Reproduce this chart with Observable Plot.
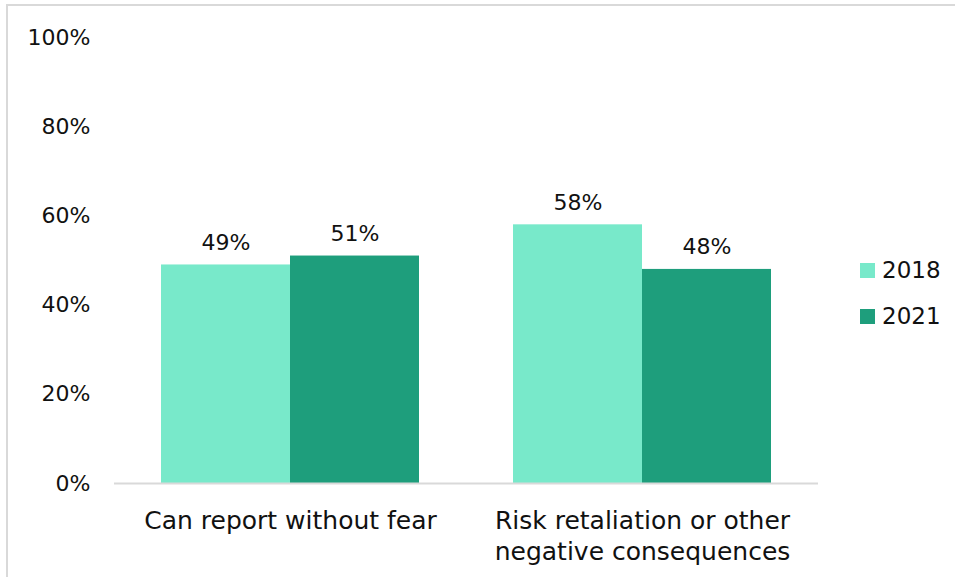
<!DOCTYPE html>
<html>
<head>
<meta charset="utf-8">
<script src="https://cdn.jsdelivr.net/npm/d3@7"></script>
<script src="https://cdn.jsdelivr.net/npm/@observablehq/plot@0.6"></script>
<style>
  html, body { margin: 0; padding: 0; background: #fff; overflow: hidden; }
  #wrap { position: relative; width: 955px; height: 577px; overflow: hidden; font-family: "DejaVu Sans", sans-serif; }
  #frame { position: absolute; left: 6px; top: 4px; width: 1000px; height: 1000px; border: 2px solid #d9d9d9; box-sizing: border-box; }
  #chart { position: absolute; left: 0; top: 0; }
  #legend { position: absolute; left: 860px; top: 247px; font-size: 23px; color: #111; }
  .item { display: flex; align-items: center; height: 46px; }
  .sw { width: 15px; height: 15px; margin-right: 7px; }
</style>
</head>
<body>
<div id="wrap">
  <div id="frame"></div>
  <div id="chart"></div>
  <div id="legend"></div>
</div>
<script>
const categories = ["Can report without fear", "Risk retaliation or other negative consequences"];
const categoryLabels = ["Can report without fear", "Risk retaliation or other\nnegative consequences"];
const years = ["2018", "2021"];
const values2018 = [49, 58];
const values2021 = [51, 48];
const colors = ["#78e9ca", "#1e9e7c"];
const yTicks = [0, 20, 40, 60, 80, 100];

const data = [];
categories.forEach((c, i) => {
  data.push({category: c, year: years[0], value: values2018[i]});
  data.push({category: c, year: years[1], value: values2021[i]});
});

const labelOf = new Map(categories.map((c, i) => [c, categoryLabels[i]]));

const chart = Plot.plot({
  width: 955,
  height: 577,
  marginLeft: 114,
  marginRight: 137,
  marginTop: 37,
  marginBottom: 94,
  style: {fontFamily: "DejaVu Sans, sans-serif", fontSize: "22px", color: "#111", background: "transparent"},
  fx: {domain: categories, padding: 0, label: null, axis: null},
  x: {domain: years, paddingInner: 0, paddingOuter: 0.354, axis: null},
  y: {domain: [0, 100], label: null, axis: null},
  color: {domain: years, range: colors},
  marks: [
    Plot.barY(data, {fx: "category", x: "year", y: "value", fill: "year"}),
    Plot.ruleY([0], {stroke: "#d9d9d9", strokeWidth: 2}),
    Plot.axisY({anchor: "left", ticks: yTicks, tickSize: 0, tickPadding: 24, tickFormat: d => d + "%", label: null, fontSize: 22}),
    Plot.axisFx({anchor: "bottom", tickSize: 0, tickPadding: 23, tickFormat: d => labelOf.get(d), label: null, fontSize: 25, lineHeight: 1.24}),
    Plot.text(data, {fx: "category", x: "year", y: "value", text: d => d.value + "%", lineAnchor: "bottom", dy: -15, fill: "#111", fontSize: 22})
  ]
});
document.getElementById("chart").appendChild(chart);

const legend = document.getElementById("legend");
years.forEach((y, i) => {
  const item = document.createElement("div");
  item.className = "item";
  const sw = document.createElement("div");
  sw.className = "sw";
  sw.style.background = colors[i];
  const t = document.createElement("span");
  t.textContent = y;
  item.appendChild(sw);
  item.appendChild(t);
  legend.appendChild(item);
});
</script>
</body>
</html>
